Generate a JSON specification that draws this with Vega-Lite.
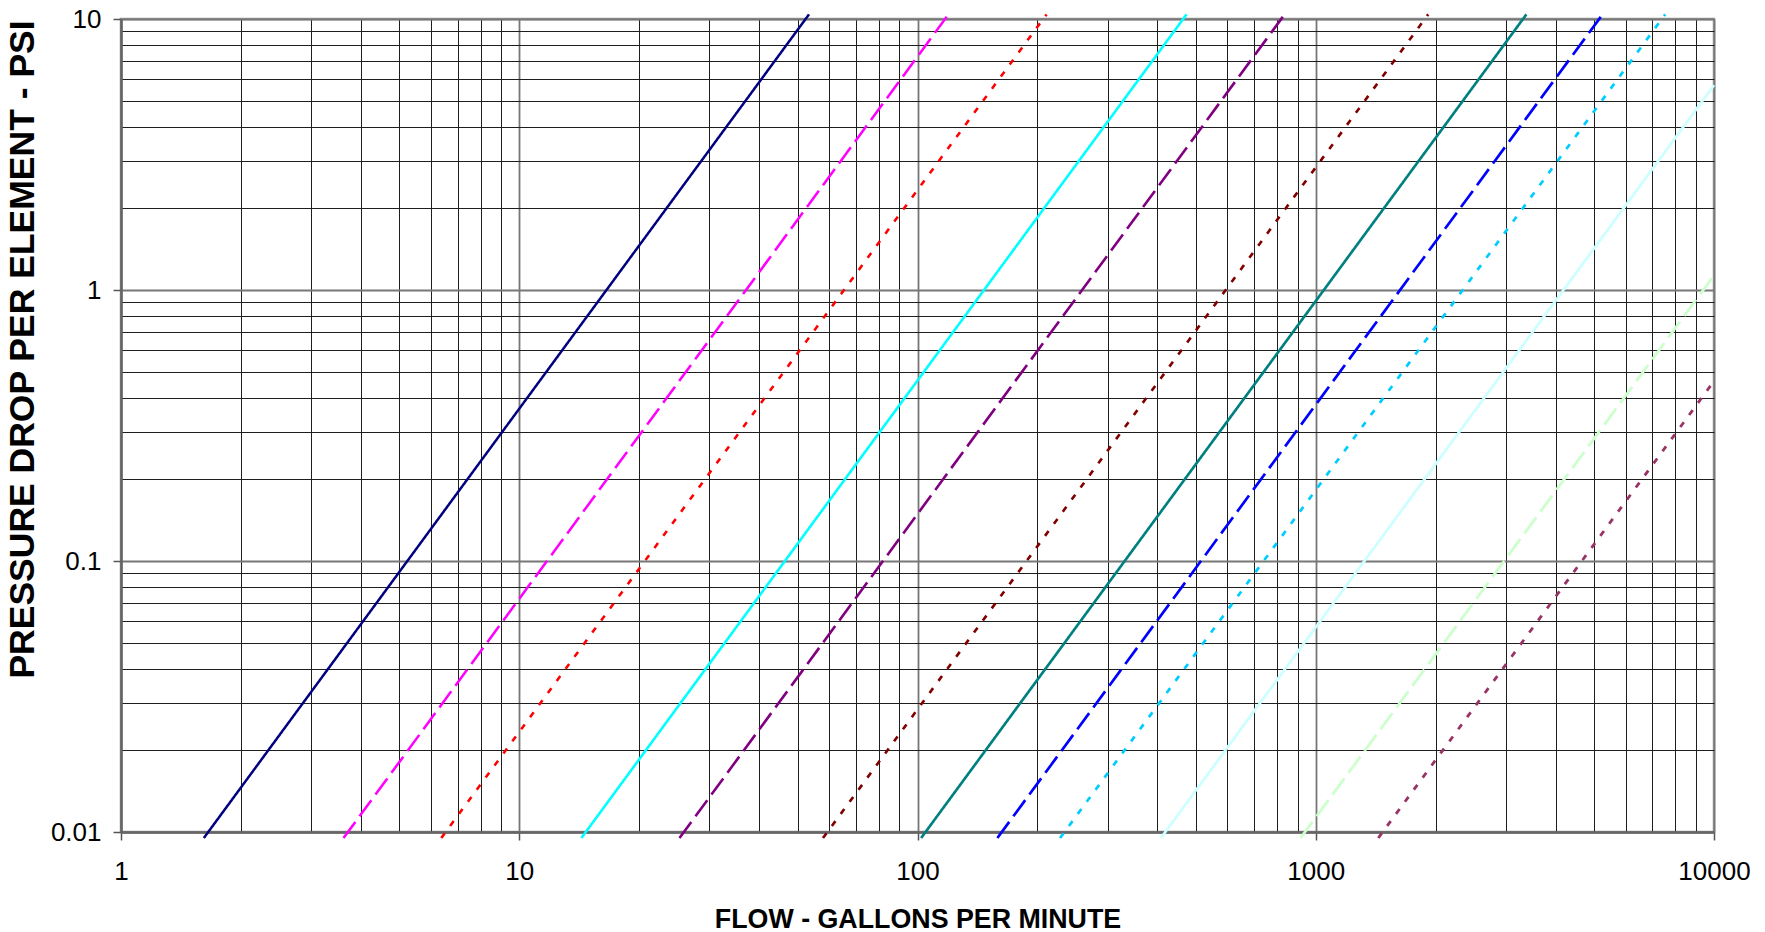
{
  "$schema": "https://vega.github.io/schema/vega-lite/v6.json",
  "width": 1593,
  "height": 813,
  "autosize": {"type": "none"},
  "padding": {"left": 121, "top": 19, "right": 51, "bottom": 100},
  "background": "white",
  "config": {
    "view": {"stroke": "#999999", "strokeWidth": 2.5},
    "font": "Liberation Sans"
  },
  "data": {
    "values": [
      {"series": "S1", "flow": 1.614, "psi": 0.0095},
      {"series": "S1", "flow": 53.4, "psi": 10.4},
      {"series": "S2", "flow": 3.62, "psi": 0.0095},
      {"series": "S2", "flow": 119.6, "psi": 10.4},
      {"series": "S3", "flow": 6.37, "psi": 0.0095},
      {"series": "S3", "flow": 210.9, "psi": 10.4},
      {"series": "S4", "flow": 14.32, "psi": 0.0095},
      {"series": "S4", "flow": 473.8, "psi": 10.4},
      {"series": "S5", "flow": 25.25, "psi": 0.0095},
      {"series": "S5", "flow": 835.3, "psi": 10.4},
      {"series": "S6", "flow": 57.9, "psi": 0.0095},
      {"series": "S6", "flow": 1916, "psi": 10.4},
      {"series": "S7", "flow": 102.1, "psi": 0.0095},
      {"series": "S7", "flow": 3380, "psi": 10.4},
      {"series": "S8", "flow": 158.7, "psi": 0.0095},
      {"series": "S8", "flow": 5250, "psi": 10.4},
      {"series": "S9", "flow": 228.0, "psi": 0.0095},
      {"series": "S9", "flow": 7543, "psi": 10.4},
      {"series": "S10", "flow": 408.4, "psi": 0.0095},
      {"series": "S10", "flow": 10000, "psi": 5.7},
      {"series": "S11", "flow": 916.0, "psi": 0.0095},
      {"series": "S11", "flow": 10000, "psi": 1.132},
      {"series": "S12", "flow": 1435.7, "psi": 0.0095},
      {"series": "S12", "flow": 10000, "psi": 0.461}
    ]
  },
  "mark": {"type": "line", "clip": false},
  "encoding": {
    "x": {
      "field": "flow",
      "type": "quantitative",
      "scale": {"type": "log", "domain": [1, 10000], "nice": false},
      "axis": {
        "values": [1,2,3,4,5,6,7,8,9,10,20,30,40,50,60,70,80,90,100,200,300,400,500,600,700,800,900,1000,2000,3000,4000,5000,6000,7000,8000,9000,10000],
        "format": "~g",
        "labelExpr": "abs(log(datum.value)/LN10 - round(log(datum.value)/LN10)) < 0.000001 ? datum.label : ''",
        "labelFlush": false,
        "labelOverlap": false,
        "labelFont": "Liberation Sans",
        "labelFontSize": 26,
        "labelColor": "black",
        "labelPadding": 18,
        "ticks": true,
        "tickSize": 8,
        "tickWidth": 1.5,
        "tickColor": "#555555",
        "tickOpacity": {"condition": {"test": "abs(log(datum.value)/LN10 - round(log(datum.value)/LN10)) < 0.000001", "value": 1}, "value": 0},
        "grid": true,
        "gridColor": {"condition": {"test": "abs(log(datum.value)/LN10 - round(log(datum.value)/LN10)) < 0.000001", "value": "#777777"}, "value": "#1e1e1e"},
        "gridWidth": {"condition": {"test": "abs(log(datum.value)/LN10 - round(log(datum.value)/LN10)) < 0.000001", "value": 1.8}, "value": 1},
        "domainColor": "#666666",
        "domainWidth": 2.5,
        "title": "FLOW - GALLONS PER MINUTE",
        "titleFont": "Liberation Sans",
        "titleFontSize": 26.8,
        "titleFontWeight": "bold",
        "titleColor": "black",
        "titleY": 87,
        "titleBaseline": "middle"
      }
    },
    "y": {
      "field": "psi",
      "type": "quantitative",
      "scale": {"type": "log", "domain": [0.01, 10], "nice": false},
      "axis": {
        "values": [0.01,0.02,0.03,0.04,0.05,0.06,0.07,0.08,0.09,0.1,0.2,0.3,0.4,0.5,0.6,0.7,0.8,0.9,1,2,3,4,5,6,7,8,9,10],
        "format": "~g",
        "labelExpr": "abs(log(datum.value)/LN10 - round(log(datum.value)/LN10)) < 0.000001 ? datum.label : ''",
        "labelFlush": false,
        "labelOverlap": false,
        "labelFont": "Liberation Sans",
        "labelFontSize": 26,
        "labelColor": "black",
        "labelPadding": 12,
        "ticks": true,
        "tickSize": 8,
        "tickWidth": 1.5,
        "tickColor": "#555555",
        "tickOpacity": {"condition": {"test": "abs(log(datum.value)/LN10 - round(log(datum.value)/LN10)) < 0.000001", "value": 1}, "value": 0},
        "grid": true,
        "gridColor": {"condition": {"test": "abs(log(datum.value)/LN10 - round(log(datum.value)/LN10)) < 0.000001", "value": "#777777"}, "value": "#1e1e1e"},
        "gridWidth": {"condition": {"test": "abs(log(datum.value)/LN10 - round(log(datum.value)/LN10)) < 0.000001", "value": 1.8}, "value": 1},
        "domainColor": "#666666",
        "domainWidth": 2.5,
        "title": "PRESSURE DROP PER ELEMENT - PSI",
        "titleFont": "Liberation Sans",
        "titleFontSize": 35.5,
        "titleFontWeight": "bold",
        "titleColor": "black",
        "titleAngle": 270,
        "titleX": -99,
        "titleY": 330,
        "titleAlign": "center",
        "titleBaseline": "middle"
      }
    },
    "color": {
      "field": "series",
      "type": "nominal",
      "scale": {
        "domain": ["S1","S2","S3","S4","S5","S6","S7","S8","S9","S10","S11","S12"],
        "range": ["#000080","#FF00FF","#FF0000","#00FFFF","#800080","#800000","#008080","#0000FF","#00CCFF","#CCFFFF","#CCFFCC","#993366"]
      },
      "legend": null
    },
    "strokeDash": {
      "field": "series",
      "type": "nominal",
      "scale": {
        "domain": ["S1","S2","S3","S4","S5","S6","S7","S8","S9","S10","S11","S12"],
        "range": [[1,0],[20,7],[6,9],[1,0],[20,7],[6,9],[1,0],[20,7],[6,9],[1,0],[20,7],[6,9]]
      },
      "legend": null
    },
    "strokeWidth": {
      "field": "series",
      "type": "nominal",
      "scale": {
        "domain": ["S1","S2","S3","S4","S5","S6","S7","S8","S9","S10","S11","S12"],
        "range": [2.5,2.8,3,2.5,2.8,3,2.5,2.8,3,2.5,2.8,3]
      },
      "legend": null
    }
  }
}
